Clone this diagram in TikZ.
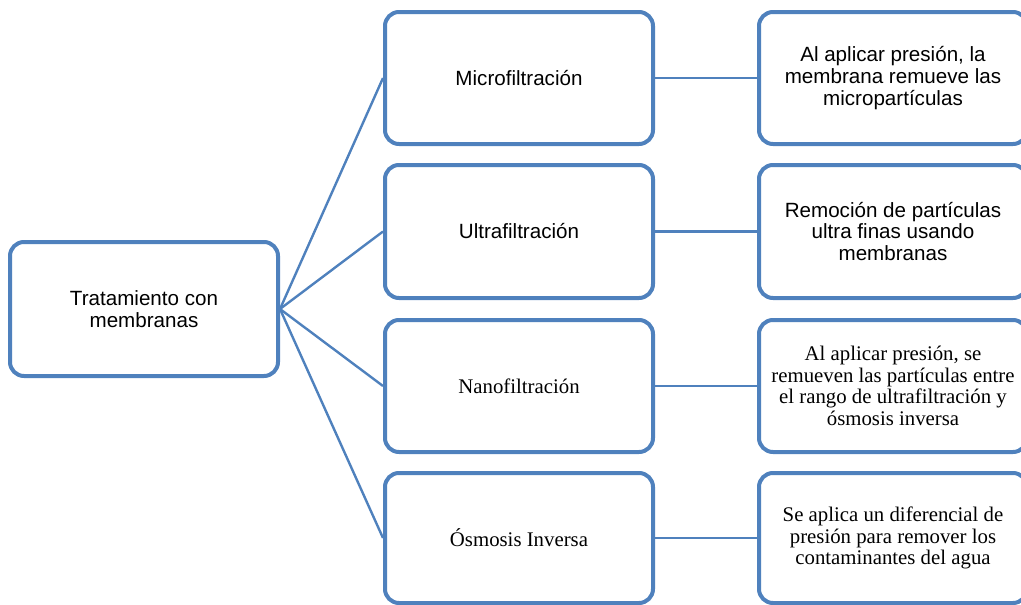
\documentclass[tikz,border=0pt]{standalone}
\usepackage{fontspec}
\setmainfont{Liberation Serif}
\newfontfamily\arialf{Liberation Sans}
\newfontfamily\timesf{Liberation Serif}
\definecolor{boxblue}{HTML}{4F81BD}
\begin{document}
\begin{tikzpicture}[x=1pt,y=-1pt,
  box/.style={draw=boxblue, line width=4pt, rounded corners=14pt, fill=white,
    inner sep=0pt, align=center, font=\fontsize{20.6}{21.7}\selectfont},
  conn/.style={draw=boxblue, line width=2.4pt},
  sans/.append style={font=\arialf\fontsize{20.6}{21.7}\selectfont},
  serif/.append style={font=\timesf\fontsize{20.8}{21.7}\selectfont}]
\useasboundingbox (0,0) rectangle (1021,605);
\clip (0,0) rectangle (1021,605);
% left
\node[box,sans,minimum width=268pt,minimum height=134pt] (root) at (144,309) {Tratamiento con\\membranas};
% middle
\node[box,sans,minimum width=268pt,minimum height=132pt] (m1) at (519,78) {Microfiltración};
\node[box,sans,minimum width=268pt,minimum height=133pt] (m2) at (519,231.5) {Ultrafiltración};
\node[box,serif,minimum width=268pt,minimum height=132pt] (m3) at (519,386) {Nanofiltración};
\node[box,serif,minimum width=268pt,minimum height=130pt] (m4) at (519,538) {Ósmosis Inversa};
% right
\node[box,sans,minimum width=268pt,minimum height=132pt] (r1) at (893,78) {Al aplicar presión, la\\membrana remueve las\\micropartículas};
\node[box,sans,minimum width=268pt,minimum height=133pt] (r2) at (893,231.5) {Remoción de partículas\\ultra finas usando\\membranas};
\node[box,serif,minimum width=268pt,minimum height=132pt] (r3) at (893,386) {Al aplicar presión, se\\remueven las partículas entre\\el rango de ultrafiltración y\\ósmosis inversa};
\node[box,serif,minimum width=268pt,minimum height=130pt] (r4) at (893,538) {Se aplica un diferencial de\\presión para remover los\\contaminantes del agua};
% connectors
\foreach \i in {1,2,3,4}{
  \draw[conn] (root.east) -- (m\i.west);
  \draw[conn] (m\i.east) -- (r\i.west);
}
\end{tikzpicture}
\end{document}
